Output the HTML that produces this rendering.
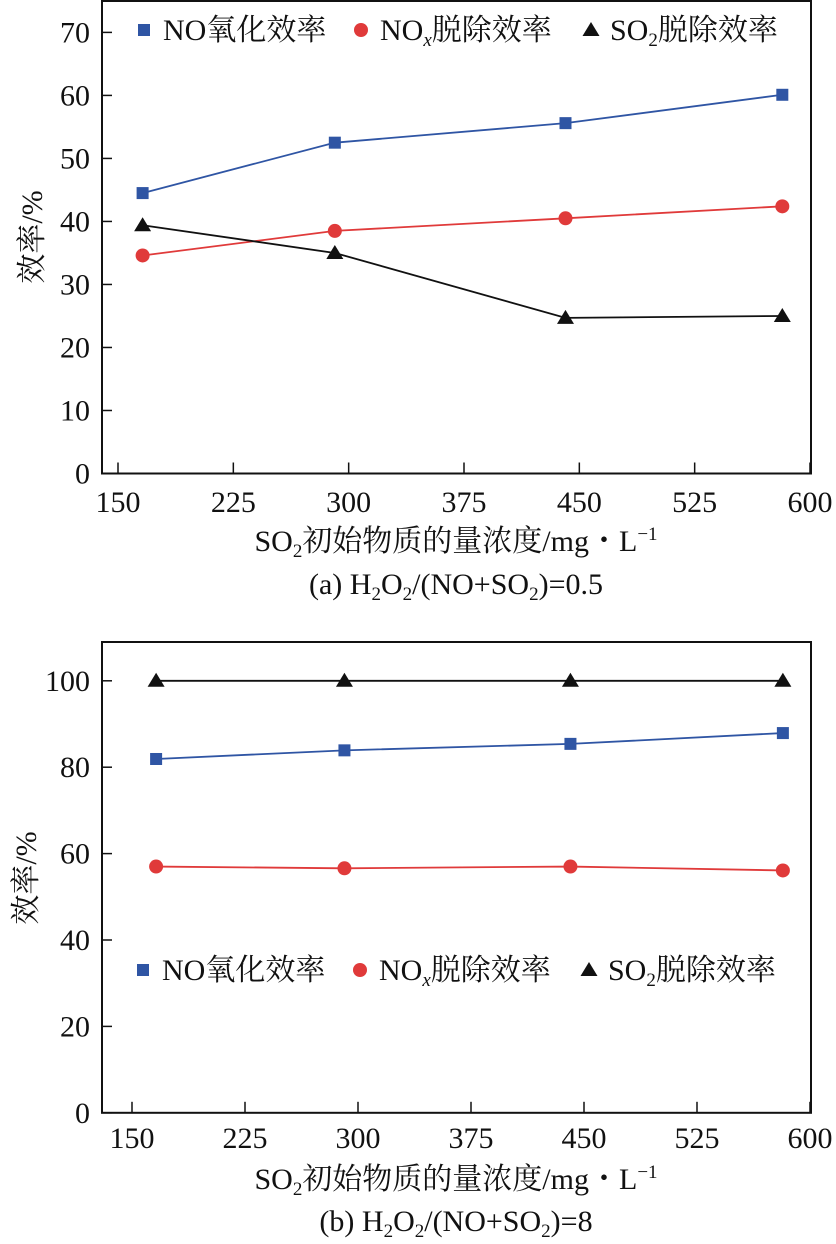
<!DOCTYPE html>
<html><head><meta charset="utf-8"><style>
html,body{margin:0;padding:0;background:#fff}
svg{display:block}
text{font-family:"Liberation Serif","Noto Serif CJK SC","Noto Sans CJK SC",serif;fill:#111}
</style></head><body>
<svg id="fig" width="836" height="1244" viewBox="0 0 836 1244"></svg>
<script>
const xValues = [166, 291, 441, 582];
const xTicks = [150, 225, 300, 375, 450, 525, 600];
const aNoOx = [44.5, 52.5, 55.6, 60.1];
const aNoxRem = [34.6, 38.5, 40.5, 42.4];
const aSo2Rem = [39.4, 35.0, 24.7, 25.0];
const aYTicks = [0, 10, 20, 30, 40, 50, 60, 70];
const bNoOx = [81.9, 83.9, 85.4, 87.9];
const bNoxRem = [57.0, 56.6, 57.0, 56.1];
const bSo2Rem = [100, 100, 100, 100];
const bYTicks = [0, 20, 40, 60, 80, 100];

const NS = "http://www.w3.org/2000/svg";
const svg = document.getElementById('fig');
function mk(tag, attrs, parent, txt) {
  const e = document.createElementNS(NS, tag);
  for (const k in attrs) e.setAttribute(k, attrs[k]);
  if (txt !== undefined) e.textContent = txt;
  (parent || svg).appendChild(e);
  return e;
}
const BLUE = '#2f55a4', RED = '#e03a3a', BLK = '#111';
const FS = 30, SUB = 19;

function marker(g, type, cx, cy, color) {
  let m;
  if (type === 'sq') m = mk('rect', {x: cx - 6, y: cy - 6, width: 12, height: 12, fill: color}, g);
  else if (type === 'ci') m = mk('circle', {cx: cx, cy: cy, r: 7, fill: color}, g);
  else m = mk('polygon', {points: `${cx},${cy - 8} ${cx - 8.5},${cy + 6} ${cx + 8.5},${cy + 6}`, fill: color}, g);
  return m;
}

function legend(g, y, xs) {
  const entries = [['sq', BLUE, 'NO', '氧化效率', ''], ['ci', RED, 'NO', '脱除效率', 'x'], ['tr', BLK, 'SO', '脱除效率', '2']];
  entries.forEach((en, i) => {
    const lg = mk('g', {}, g);
    
    
    marker(lg, en[0], xs[i], y, en[1]);
    const t = mk('text', {x: xs[i] + 19, y: y + 10, 'font-size': FS}, lg);
    mk('tspan', {}, t, en[2]);
    if (en[4]) mk('tspan', {'font-size': SUB, dy: 6, 'font-style': en[4] === 'x' ? 'italic' : 'normal'}, t, en[4]);
    mk('tspan', {dy: en[4] ? -6 : 0}, t, en[3]);
  });
}

function chart(cfg) {
  const g = mk('g', {});
  
  
  const X = v => cfg.x0 + (v - 150) / 450 * (cfg.x1 - cfg.x0);
  const Y = v => cfg.yb - v / cfg.ymax * (cfg.yb - cfg.yt);
  const frame = mk('rect', {x: cfg.fl, y: cfg.ft, width: cfg.fr - cfg.fl, height: cfg.yb - cfg.ft, fill: 'none', stroke: '#111', 'stroke-width': 2}, g);
  
  
  xTicks.forEach(t => {
    mk('line', {x1: X(t), x2: X(t), y1: cfg.yb, y2: cfg.yb - 11, stroke: '#111', 'stroke-width': 1.5}, g);
    const lb = mk('text', {x: X(t), y: cfg.xly, 'font-size': FS, 'text-anchor': 'middle'}, g, String(t));
    
    
  });
  cfg.yticks.forEach(t => {
    mk('line', {x1: cfg.fl, x2: cfg.fl + 10, y1: Y(t), y2: Y(t), stroke: '#111', 'stroke-width': 1.5}, g);
    const lb = mk('text', {x: cfg.fl - 12, y: Y(t) + 10, 'font-size': FS, 'text-anchor': 'end'}, g, String(t));
    
    
  });
  const series = [[cfg.noOx, BLUE, 'sq', 'no-oxidation'], [cfg.noxRem, RED, 'ci', 'nox-removal'], [cfg.so2Rem, BLK, 'tr', 'so2-removal']];
  series.forEach(s => {
    const sg = mk('g', {}, g);
    
    
    const pts = s[0].map((v, i) => X(xValues[i]) + ',' + Y(v)).join(' ');
    mk('polyline', {points: pts, fill: 'none', stroke: s[1], 'stroke-width': 1.8}, sg);
    s[0].forEach((v, i) => {
      const m = marker(sg, s[2], X(xValues[i]), Y(v), s[1]);
      
      
    });
  });
  const lgg = mk('g', {}, g);
  
  
  legend(lgg, cfg.legY, cfg.legX);
  const yt = mk('text', {x: 0, y: 0, 'font-size': FS, 'text-anchor': 'middle', transform: `translate(${cfg.ytx},${cfg.yty}) rotate(-90)`}, g, '效率/%');
  
  
  const xt = mk('text', {x: 456, y: cfg.xty, 'font-size': FS, 'text-anchor': 'middle'}, g);
  
  
  mk('tspan', {}, xt, 'SO');
  mk('tspan', {'font-size': SUB, dy: 6}, xt, '2');
  mk('tspan', {dy: -6}, xt, '初始物质的量浓度/mg・L');
  mk('tspan', {'font-size': SUB, dy: -11}, xt, '−1');
  const cap = mk('text', {x: 456, y: cfg.capy, 'font-size': FS, 'text-anchor': 'middle'}, g);
  
  
  mk('tspan', {}, cap, cfg.capPre + ' H');
  mk('tspan', {'font-size': SUB, dy: 6}, cap, '2');
  mk('tspan', {dy: -6}, cap, 'O');
  mk('tspan', {'font-size': SUB, dy: 6}, cap, '2');
  mk('tspan', {dy: -6}, cap, '/(NO+SO');
  mk('tspan', {'font-size': SUB, dy: 6}, cap, '2');
  mk('tspan', {dy: -6}, cap, ')=' + cfg.capPost);
}

chart({name: 'chart-a', fl: 102, fr: 811, ft: 1, yb: 473.5, yt: 32.4, ymax: 70, x0: 118, x1: 810,
  yticks: aYTicks, noOx: aNoOx, noxRem: aNoxRem, so2Rem: aSo2Rem, xly: 512, legY: 30, legX: [144, 361, 591],
  ytx: 42, yty: 237, xty: 551, capy: 594, capPre: '(a)', capPost: '0.5'});
chart({name: 'chart-b', fl: 102, fr: 811, ft: 642, yb: 1112.8, yt: 680.8, ymax: 100, x0: 132, x1: 810,
  yticks: bYTicks, noOx: bNoOx, noxRem: bNoxRem, so2Rem: bSo2Rem, xly: 1148, legY: 970, legX: [143, 360, 589],
  ytx: 36, yty: 878, xty: 1189, capy: 1231, capPre: '(b)', capPost: '8'});
</script>
</body></html>
